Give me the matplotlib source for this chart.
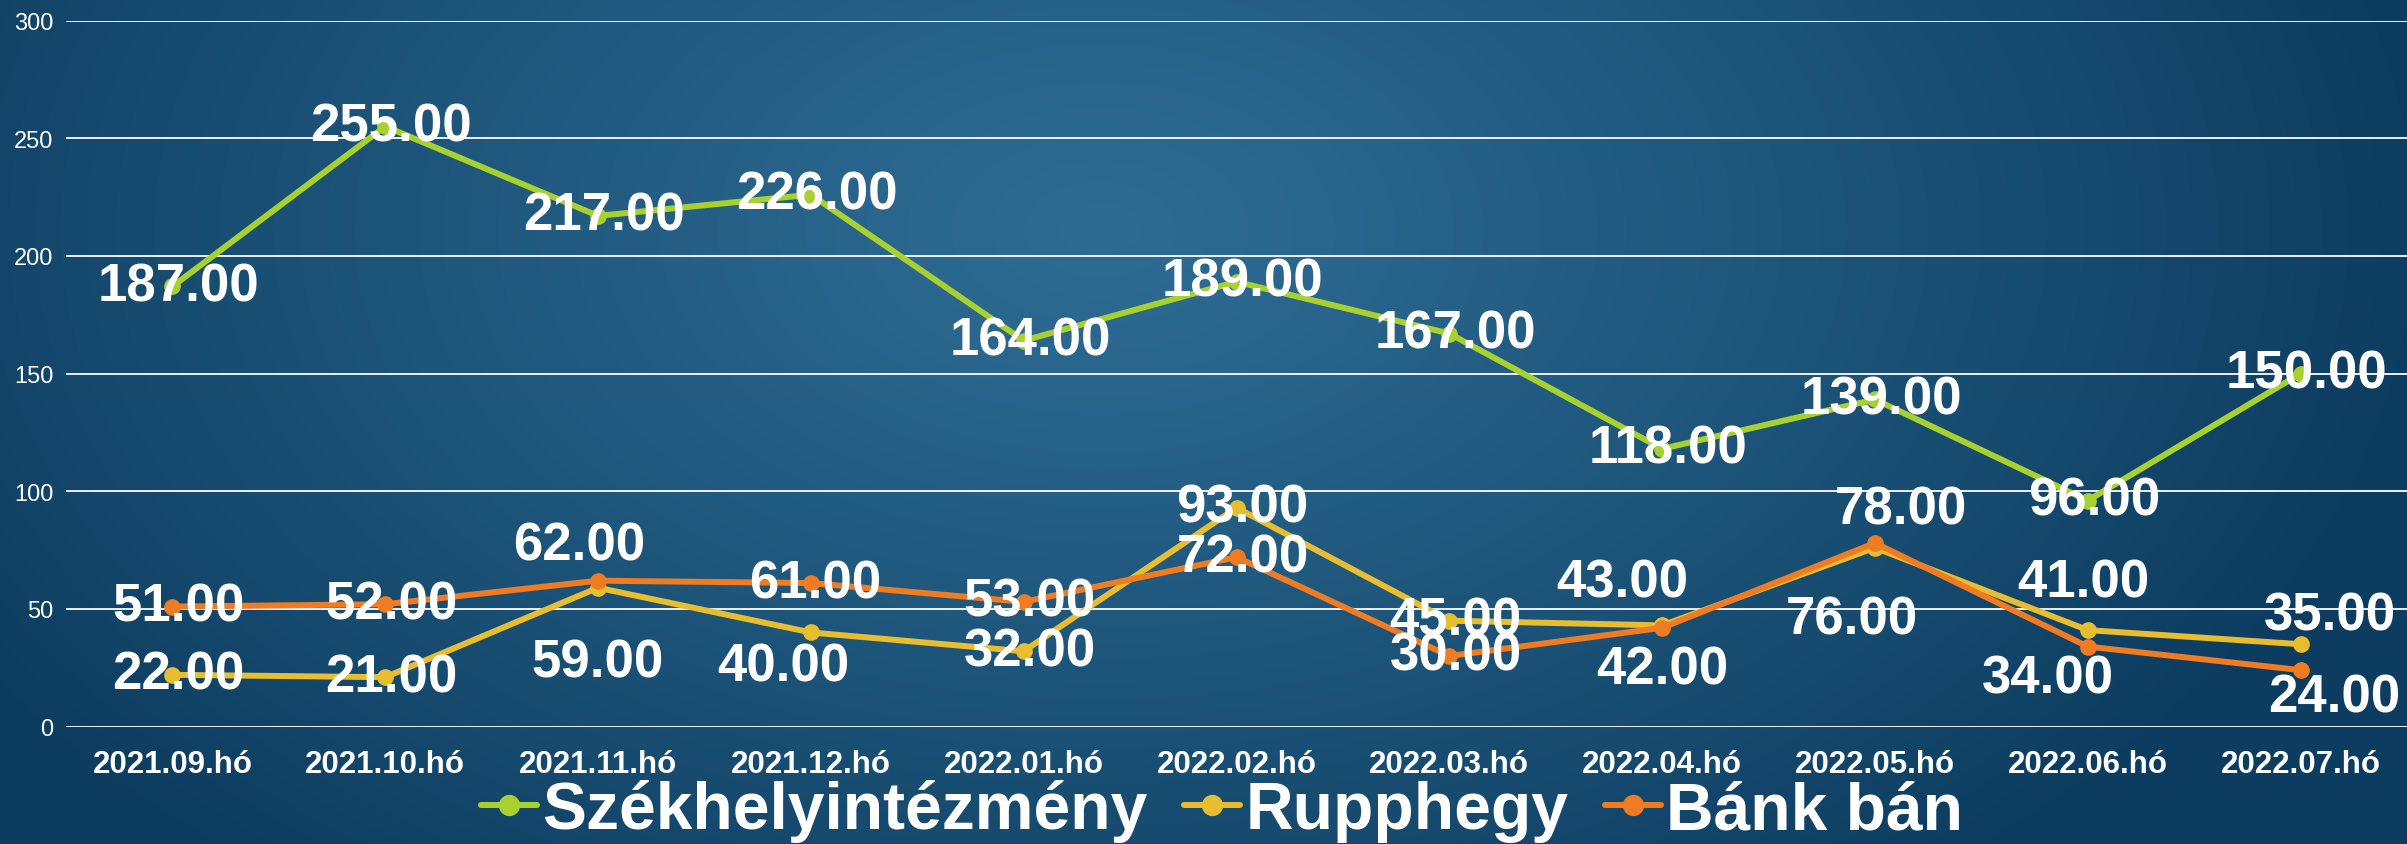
import matplotlib.pyplot as plt
import numpy as np

plt.rcParams['font.family'] = ['Liberation Sans', 'DejaVu Sans']

# data
months = ['2021.09.hó', '2021.10.hó', '2021.11.hó', '2021.12.hó', '2022.01.hó',
          '2022.02.hó', '2022.03.hó', '2022.04.hó', '2022.05.hó', '2022.06.hó',
          '2022.07.hó']
szekhely = [187, 255, 217, 226, 164, 189, 167, 118, 139, 96, 150]
rupphegy = [22, 21, 59, 40, 32, 93, 45, 43, 76, 41, 35]
bank_ban = [51, 52, 62, 61, 53, 72, 30, 42, 78, 34, 24]
names = ['Székhelyintézmény', 'Rupphegy', 'Bánk bán']

colors = ['#a8d12f', '#e8be30', '#ef7b22']

# label nudges (pixels in the small preview, scaled below)
off_green = [(4, 0)] * 11
off_yellow = [(4, 0), (4, 0), (0, -49), (-18, -22), (4, 0), (4, 0), (4, 0),
              (-26, 28), (-15, -47), (-3, 31), (19, 19)]
off_orange = [(4, 0), (4, 0), (-12, 23), (3, 0), (4, 0), (4, 0), (4, 0),
              (0, -27), (17, 22), (-26, -21), (22, -18)]
S = 1.535

W, H = 2407, 845
fig = plt.figure(figsize=(W / 100, H / 100), dpi=100)

# radial gradient background
bg = fig.add_axes([0, 0, 1, 1], zorder=-1)
yy, xx = np.mgrid[0:H, 0:W]
cx, cy = 1100, 230
d = np.sqrt(((xx - cx) / 1350.0) ** 2 + ((yy - cy) / 850.0) ** 2)
t = np.clip(d, 0, 1) ** 1.1
c0 = np.array([0x2e, 0x6c, 0x94]) / 255.0
c1 = np.array([0x0c, 0x3c, 0x5f]) / 255.0
img = c0[None, None, :] * (1 - t[..., None]) + c1[None, None, :] * t[..., None]
bg.imshow(img, aspect='auto', interpolation='bilinear')
bg.axis('off')

ax = fig.add_axes([66 / W, 1 - 727.6 / H, 1 - 66 / W, (727.6 - 21.5) / H])
ax.set_facecolor('none')
x = np.arange(len(months))

series = [szekhely, rupphegy, bank_ban]
offsets = [off_green, off_yellow, off_orange]
for k, (vals, name, col) in enumerate(zip(series, names, colors)):
    ax.plot(x, vals, color=col, lw=4.3, marker='o', markersize=11,
            label=name, zorder=3 + k, solid_capstyle='round')

for vals, offs in zip(series, offsets):
    for i, v in enumerate(vals):
        dx, dy = offs[i]
        ax.annotate(f'{v:.2f}', (i, v), xytext=(dx * S, dy * S),
                    textcoords='offset pixels', ha='center', va='center',
                    color='white', fontsize=38, fontweight='bold', zorder=10)

ax.set_xlim(-0.5, 10.5)
ax.set_ylim(0, 300)
ax.set_yticks([0, 50, 100, 150, 200, 250, 300])
ax.set_xticks(x)
ax.set_xticklabels(months, fontsize=22.5, fontweight='bold', color='white')
ax.tick_params(axis='y', colors='white', labelsize=17, length=0, pad=9)
ax.tick_params(axis='x', length=0, pad=16)
ax.grid(axis='y', color='white', lw=1.4, alpha=0.92, zorder=1)
ax.set_axisbelow(True)
for s in ax.spines.values():
    s.set_visible(False)

leg = fig.legend(loc='center', bbox_to_anchor=(1222 / W, 1 - 812 / H), ncol=3,
                 frameon=False, handlelength=0.85, markerscale=1.3,
                 handletextpad=0.08, columnspacing=0.55,
                 prop={'weight': 'bold', 'size': 47.5})
for txt in leg.get_texts():
    txt.set_color('white')

fig.savefig('out.png', dpi=100)
